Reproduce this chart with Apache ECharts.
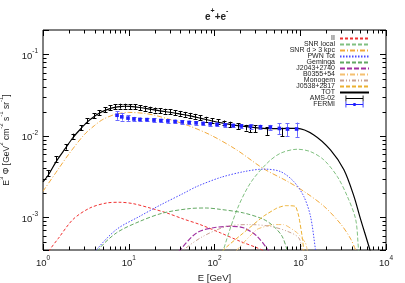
<!DOCTYPE html>
<html><head><meta charset="utf-8">
<script src="https://cdn.jsdelivr.net/npm/echarts@6/dist/echarts.min.js"></script>
<style>html,body{margin:0;padding:0;background:#fff}#c{width:405px;height:283px}</style>
</head><body><div id="c"></div>
<script>
// ---------------- data ----------------
const II_E = [1, 1.2, 1.5, 2.24, 3.52, 5.52, 7.89, 11.3, 17.7, 27.7, 43.4, 68, 117, 200, 313, 400];
const II_V = [2.6e-4, 4.0e-4, 5.5e-4, 9.5e-4, 1.31e-3, 1.51e-3, 1.54e-3, 1.48e-3, 1.31e-3, 1.14e-3, 9.6e-4, 8.2e-4, 6.5e-4, 5.1e-4, 4.26e-4, 3.8e-4];

const SNRLOC_E = [110, 127, 183, 262, 411, 588, 921, 1316, 1885, 2704, 3540, 4430, 4790, 5200];
const SNRLOC_V = [2.2e-4, 4e-4, 1.25e-3, 2.65e-3, 4.65e-3, 6.15e-3, 6.89e-3, 6.44e-3, 5.1e-3, 3.19e-3, 1.82e-3, 9.5e-4, 4e-4, 2e-4];

const SNRFAR_E = [1, 1.5, 2, 3, 4, 5, 7, 10, 15, 20, 30, 50, 90, 180, 370, 700, 1100, 1900, 3000, 3900, 4500];
const SNRFAR_V = [2.1e-3, 3.9e-3, 6.0e-3, 1.03e-2, 1.35e-2, 1.6e-2, 1.85e-2, 1.95e-2, 1.9e-2, 1.8e-2, 1.6e-2, 1.34e-2, 1.03e-2, 6.8e-3, 4.0e-3, 2.8e-3, 2.1e-3, 1.37e-3, 8.2e-4, 5.4e-4, 3.8e-4];

const PWN_E = [3.5, 4.2, 7.2, 13.5, 23.2, 43.4, 62, 117, 218, 374, 587, 839, 1099, 1316, 1507, 1600];
const PWN_V = [2.8e-4, 4e-4, 7.15e-4, 1.04e-3, 1.42e-3, 1.98e-3, 2.4e-3, 3.1e-3, 3.65e-3, 3.93e-3, 3.67e-3, 2.77e-3, 1.82e-3, 1.04e-3, 4e-4, 2.5e-4];

const GEM_E = [3.8, 4.4, 7.2, 13.5, 25.3, 52, 80, 117, 218, 374, 490, 614, 703, 760];
const GEM_V = [2.8e-4, 4e-4, 6.5e-4, 9.0e-4, 1.14e-3, 1.29e-3, 1.31e-3, 1.26e-3, 1.14e-3, 9.5e-4, 7.8e-4, 5.9e-4, 4e-4, 3e-4];

const J2043_E = [35, 39.7, 62, 97, 153, 218, 313, 420, 460];
const J2043_V = [3.2e-4, 4e-4, 6.5e-4, 7.5e-4, 7.8e-4, 7.5e-4, 5.9e-4, 4e-4, 3.3e-4];

const B0355_E = [160, 183, 313, 490, 641, 920, 1150, 1205, 1250];
const B0355_V = [3e-4, 4e-4, 7.15e-4, 8.2e-4, 8.2e-4, 6.5e-4, 4.9e-4, 4e-4, 3e-4];

const MONO_E = [38, 43.4, 74, 140, 262, 449, 703, 960, 1052, 1100];
const MONO_V = [3.3e-4, 4e-4, 5.9e-4, 7.8e-4, 8.2e-4, 7.8e-4, 6.8e-4, 5.65e-4, 4e-4, 3e-4];

const J0538_E = [110, 127, 218, 374, 537, 671, 879, 960, 1052, 1099, 1150];
const J0538_V = [2.8e-4, 4e-4, 6.5e-4, 1.04e-3, 1.31e-3, 1.4e-3, 1.37e-3, 1.04e-3, 5.9e-4, 4e-4, 3e-4];

const TOT_E = [1, 1.15, 1.43, 1.83, 2.24, 2.74, 3.27, 3.92, 4.52, 5.22, 6.03, 6.9, 7.9, 9, 10.3, 13.5, 17.7, 23, 30, 40, 52, 68, 94, 130, 189, 316, 500, 700, 920, 1440, 2250, 3230, 4230, 5060, 6500, 7500];
const TOT_V = [2.75e-3, 3.3e-3, 4.9e-3, 7.1e-3, 9.6e-3, 0.0122, 0.0148, 0.0172, 0.019, 0.0205, 0.0217, 0.0225, 0.023, 0.0232, 0.0231, 0.0224, 0.0214, 0.0204, 0.0196, 0.0186, 0.0177, 0.0166, 0.0153, 0.0143, 0.0134, 0.0126, 0.0123, 0.0124, 0.0124, 0.0103, 6.75e-3, 3.85e-3, 1.82e-3, 9.5e-4, 4e-4, 2.3e-4];

const AMS_E = [1.15, 1.43, 1.83, 2.24, 2.74, 3.27, 3.92, 4.52, 5.22, 6.03, 6.9, 7.9, 9.0, 10.3, 11.8, 13.5, 15.5, 17.7, 20.2, 23.2, 26.5, 30.3, 34.7, 39.7, 45.4, 52, 59.4, 68, 80, 94, 110, 130, 153, 189, 230, 262, 300, 410, 614];
const AMS_V = [3.5e-3, 5.2e-3, 7.4e-3, 0.0100, 0.0126, 0.0154, 0.0177, 0.0195, 0.0212, 0.0224, 0.0230, 0.0233, 0.0233, 0.0231, 0.0228, 0.0224, 0.0219, 0.0214, 0.0209, 0.0205, 0.0202, 0.0198, 0.0194, 0.0190, 0.0185, 0.0180, 0.0175, 0.0169, 0.0161, 0.0155, 0.0150, 0.0145, 0.0139, 0.0133, 0.0127, 0.0124, 0.0124, 0.0116, 0.0113];
const AMS_ERR = [0.08, 0.08, 0.08, 0.07, 0.07, 0.07, 0.07, 0.07, 0.07, 0.07, 0.07, 0.07, 0.07, 0.07, 0.07, 0.07, 0.07, 0.07, 0.07, 0.07, 0.07, 0.07, 0.07, 0.07, 0.07, 0.07, 0.07, 0.07, 0.07, 0.07, 0.07, 0.07, 0.08, 0.08, 0.08, 0.10, 0.10, 0.11, 0.12];

const FERMI_E = [7.3, 8.3, 9.8, 11.5, 13.5, 16.3, 19.7, 23.7, 28.6, 34.7, 42, 50.6, 61, 73.6, 89, 107, 133, 165, 205, 263, 343, 448, 571, 710, 907];
const FERMI_V = [0.0180, 0.0172, 0.0166, 0.0162, 0.0160, 0.0159, 0.0157, 0.0155, 0.0153, 0.0151, 0.0149, 0.0147, 0.0145, 0.0143, 0.0141, 0.0139, 0.0137, 0.0135, 0.0133, 0.0131, 0.0130, 0.0128, 0.0124, 0.0122, 0.0122];
const FERMI_ERR = [0.12, 0.1, 0.08, 0.06, 0.05, 0.05, 0.05, 0.05, 0.05, 0.05, 0.05, 0.05, 0.05, 0.05, 0.05, 0.05, 0.05, 0.05, 0.05, 0.06, 0.06, 0.07, 0.15, 0.18, 0.2];

const X_MINOR_TICKS = [2,3,4,5,6,7,8,9,20,30,40,50,60,70,80,90,200,300,400,500,600,700,800,900,2000,3000,4000,5000,6000,7000,8000,9000];
const Y_MINOR_TICKS = [5e-4,6e-4,7e-4,8e-4,9e-4,2e-3,3e-3,4e-3,5e-3,6e-3,7e-3,8e-3,9e-3,0.02,0.03,0.04,0.05,0.06,0.07,0.08,0.09];

const LEGEND_NAMES = ['II','SNR local','SNR d > 3 kpc','PWN Tot','Geminga','J2043+2740','B0355+54','Monogem','J0538+2817','TOT','AMS-02','FERMI'];

// ---------------- chart ----------------
const FONT = 'Liberation Sans';
const TXT = '#222';
const X_MIN = 1, X_MAX = 1e4, Y_MIN = 4e-4, Y_MAX = 0.2;
const MINOR_LEN = 3.5, MAJOR_LEN = 6;

const pair = (E, V) => E.map((e, i) => [e, V[i]]);
const supRich = {
  b: {fontFamily: FONT, fontSize: 9.5, color: TXT, lineHeight: 13, verticalAlign: 'bottom'},
  s: {fontFamily: FONT, fontSize: 6.5, color: TXT, lineHeight: 7, verticalAlign: 'top'}
};
function powLabel(v) {
  const l = Math.log10(v), r = Math.round(l);
  if (Math.abs(l - r) > 1e-6) return '';
  return '{b|10}{s|' + r + '}';
}
const px = v => Math.round(v) + 0.5;

function lineSeries(name, E, V, color, type, width, smooth) {
  return {
    type: 'line', name, data: pair(E, V), showSymbol: false, symbol: 'none',
    smooth: smooth === undefined ? 0.3 : smooth, clip: true,
    lineStyle: {color, width: width || 1, type: type || 'solid'},
    itemStyle: {color}, z: 3
  };
}

function errSeries(name, E, V, ERR, color, barColor, marker) {
  return {
    type: 'custom', name, clip: true, z: 5,
    itemStyle: {color},
    data: E.map((e, i) => [e, V[i], V[i] * (1 - ERR[i]), V[i] * (1 + ERR[i])]),
    encode: {x: 0, y: [1, 2, 3]},
    renderItem: (params, api) => {
      const x = api.value(0);
      const c = api.coord([x, api.value(1)]);
      const lo = api.coord([x, api.value(2)]);
      const hi = api.coord([x, api.value(3)]);
      const xx = px(c[0]), cap = 2;
      const st = {stroke: barColor, lineWidth: 1};
      const ch = [
        {type: 'line', shape: {x1: xx, y1: lo[1], x2: xx, y2: hi[1]}, style: st},
        {type: 'line', shape: {x1: xx - cap, y1: px(lo[1]), x2: xx + cap, y2: px(lo[1])}, style: st},
        {type: 'line', shape: {x1: xx - cap, y1: px(hi[1]), x2: xx + cap, y2: px(hi[1])}, style: st}
      ];
      if (marker) ch.push({type: 'rect', shape: {x: c[0] - 1.8, y: c[1] - 1.8, width: 3.6, height: 3.6}, style: {fill: color}});
      return {type: 'group', children: ch};
    }
  };
}

const minorX = {
  type: 'custom', silent: true, z: 6, clip: false,
  data: X_MINOR_TICKS.map(v => [v, Y_MIN]),
  encode: {x: 0, y: 1},
  renderItem: (params, api) => {
    const v = api.value(0);
    const b = api.coord([v, Y_MIN]), t = api.coord([v, Y_MAX]);
    const x = px(b[0]);
    const st = {stroke: '#000', lineWidth: 1};
    return {type: 'group', children: [
      {type: 'line', shape: {x1: x, y1: b[1], x2: x, y2: b[1] - MINOR_LEN}, style: st},
      {type: 'line', shape: {x1: x, y1: t[1], x2: x, y2: t[1] + MINOR_LEN}, style: st}
    ]};
  }
};
const minorY = {
  type: 'custom', silent: true, z: 6, clip: false,
  data: Y_MINOR_TICKS.map(v => [X_MIN, v]),
  encode: {x: 0, y: 1},
  renderItem: (params, api) => {
    const v = api.value(1);
    const l = api.coord([X_MIN, v]), r = api.coord([X_MAX, v]);
    const y = px(l[1]);
    const st = {stroke: '#000', lineWidth: 1};
    return {type: 'group', children: [
      {type: 'line', shape: {x1: l[0], y1: y, x2: l[0] + MINOR_LEN, y2: y}, style: st},
      {type: 'line', shape: {x1: r[0], y1: y, x2: r[0] - MINOR_LEN, y2: y}, style: st}
    ]};
  }
};

const tickCommon = {show: true, inside: true, length: MAJOR_LEN, lineStyle: {color: '#000', width: 1}};
const hiddenDot = {color: 'rgba(0,0,0,0)', opacity: 0, borderWidth: 0};

const chart = echarts.init(document.getElementById('c'), null, {renderer: 'canvas'});
chart.setOption({
  animation: false,
  backgroundColor: '#fff',
  title: {
    text: '{a|e}{s|+}{a|+e}{s|-}', left: 200, top: 3,
    textStyle: {rich: {
      a: {fontFamily: FONT, fontSize: 10, color: TXT, lineHeight: 14, verticalAlign: 'bottom'},
      s: {fontFamily: FONT, fontSize: 7, color: TXT, lineHeight: 8, verticalAlign: 'top'}
    }}
  },
  grid: {left: 43, top: 30, width: 343, height: 220, show: true, borderColor: '#000', borderWidth: 1,
         containLabel: false, outerBoundsMode: 'none'},
  legend: {
    orient: 'vertical', right: 30, top: 30, align: 'right',
    itemWidth: 29, itemHeight: 6, itemGap: -1,
    textStyle: {fontFamily: FONT, fontSize: 7, color: TXT, lineHeight: 7},
    data: LEGEND_NAMES.map(n => {
      if (n === 'AMS-02') return {name: n, icon: 'path://M0,0h1.4v10h-1.4z M0,4.3h30v1.4h-30z M28.6,0h1.4v10h-1.4z'};
      if (n === 'FERMI') return {name: n, icon: 'path://M0,0h1.4v10h-1.4z M0,4.3h30v1.4h-30z M28.6,0h1.4v10h-1.4z M13,2.5h4v5h-4z'};
      return {name: n, itemStyle: hiddenDot};
    })
  },
  xAxis: [{
    type: 'log', logBase: 10, min: X_MIN, max: X_MAX, position: 'bottom',
    name: 'E [GeV]', nameLocation: 'middle', nameGap: 16,
    nameTextStyle: {fontFamily: FONT, fontSize: 9.5, color: TXT},
    axisLine: {show: false}, axisTick: tickCommon, splitLine: {show: false},
    axisLabel: {margin: 5, formatter: powLabel, rich: supRich}
  }, {
    type: 'log', logBase: 10, min: X_MIN, max: X_MAX, position: 'top',
    axisLine: {show: false}, axisTick: tickCommon, splitLine: {show: false}, axisLabel: {show: false}
  }],
  yAxis: [{
    type: 'log', logBase: 10, min: Y_MIN, max: Y_MAX, position: 'left',
    name: '{t|E}{s|3}{t| Φ [GeV}{s|2}{t| cm}{s|-2}{t| s}{s|-1}{t| sr}{s|-1}{t|]}',
    nameLocation: 'middle', nameGap: 21, nameRotate: 90,
    nameTextStyle: {rich: {
      t: {fontFamily: FONT, fontSize: 8.5, color: TXT, lineHeight: 12, verticalAlign: 'bottom'},
      s: {fontFamily: FONT, fontSize: 6, color: TXT, lineHeight: 6, verticalAlign: 'top'}
    }},
    axisLine: {show: false}, axisTick: tickCommon, splitLine: {show: false},
    axisLabel: {margin: 5, formatter: powLabel, rich: supRich, showMinLabel: true, showMaxLabel: true}
  }, {
    type: 'log', logBase: 10, min: Y_MIN, max: Y_MAX, position: 'right',
    axisLine: {show: false}, axisTick: tickCommon, splitLine: {show: false}, axisLabel: {show: false}
  }],
  series: [
    lineSeries('II', II_E, II_V, '#f03030', [3, 2]),
    lineSeries('SNR local', SNRLOC_E, SNRLOC_V, '#80c080', [4, 2]),
    lineSeries('SNR d > 3 kpc', SNRFAR_E, SNRFAR_V, '#f2a93b', [5, 2, 1, 2]),
    lineSeries('PWN Tot', PWN_E, PWN_V, '#4a4aff', [1.5, 1.5]),
    lineSeries('Geminga', GEM_E, GEM_V, '#62a862', [4, 2]),
    lineSeries('J2043+2740', J2043_E, J2043_V, '#a030a0', [5, 2], 1.2),
    lineSeries('B0355+54', B0355_E, B0355_V, '#f5c070', [5, 2, 1, 2], 1, 0.15),
    lineSeries('Monogem', MONO_E, MONO_V, '#c8a090', [4, 2, 1, 2, 1, 2]),
    lineSeries('J0538+2817', J0538_E, J0538_V, '#ecb030', [4, 2], 1, 0.15),
    lineSeries('TOT', TOT_E, TOT_V, '#000000', 'solid', 1.2),
    errSeries('AMS-02', AMS_E, AMS_V, AMS_ERR, '#000000', '#000000', false),
    errSeries('FERMI', FERMI_E, FERMI_V, FERMI_ERR, '#2020ff', '#6a6aff', true),
    minorX, minorY
  ]
});
</script>
</body></html>
